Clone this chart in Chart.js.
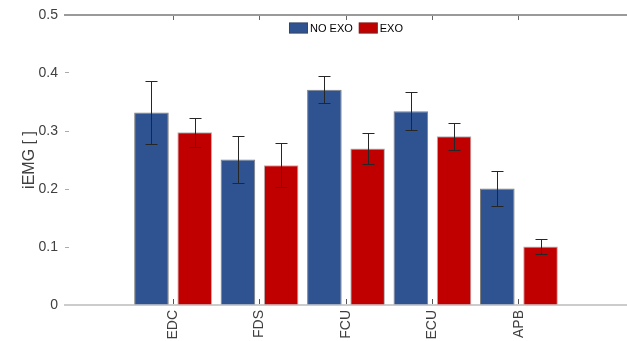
<!DOCTYPE html>
<html>
<head>
<meta charset="utf-8">
<script src="https://cdn.jsdelivr.net/npm/chart.js@4/dist/chart.umd.min.js"></script>
<style>
  html, body { margin: 0; padding: 0; background: #fff; }
</style>
</head>
<body>
<canvas id="iemgChart" width="627" height="341"></canvas>
<script>
// iEMG per muscle, with and without exoskeleton (mean +/- sd)
const muscles = ['EDC', 'FDS', 'FCU', 'ECU', 'APB'];
const noExoMean = [0.332, 0.251, 0.371, 0.334, 0.201];
const noExoErr = [0.054, 0.041, 0.023, 0.033, 0.030];
const exoMean = [0.298, 0.241, 0.270, 0.291, 0.101];
const exoErr = [0.025, 0.038, 0.027, 0.023, 0.013];
const yTicks = [0, 0.1, 0.2, 0.3, 0.4, 0.5];

const FONT = 'Liberation Sans, Arial, Helvetica, sans-serif';
const TEXT = '#404040';

const toPoints = (vals) => vals.map((v, i) => ({ x: i + 1, y: v }));
const categoryTicks = (scale) => { scale.ticks = muscles.map((m, i) => ({ value: i + 1 })); };

// whiskers drawn on top of the bars, positions come from the y scale
const errorBars = {
  id: 'errorBars',
  afterDatasetsDraw(chart) {
    const { ctx } = chart;
    const y = chart.scales.y;
    ctx.save();
    ctx.strokeStyle = '#262626';
    ctx.lineWidth = 1;
    chart.data.datasets.forEach((ds, di) => {
      const meta = chart.getDatasetMeta(di);
      meta.data.forEach((bar, i) => {
        const m = ds.data[i].y;
        const e = ds.errors[i];
        const top = Math.round(y.getPixelForValue(m + e)) + 0.5;
        const bot = Math.round(y.getPixelForValue(m - e)) + 0.5;
        const x = Math.round(bar.x) + 0.5;
        ctx.beginPath();
        ctx.moveTo(x, top); ctx.lineTo(x, bot);
        ctx.moveTo(x - 6, top); ctx.lineTo(x + 6, top);
        ctx.moveTo(x - 6, bot); ctx.lineTo(x + 6, bot);
        ctx.stroke();
      });
    });
    ctx.restore();
  }
};

// matlab-style legend sitting inside the axes, under the top edge
const insideLegend = {
  id: 'insideLegend',
  afterDraw(chart) {
    const { ctx, chartArea } = chart;
    const boxW = 19, boxH = 11, textGap = 2, itemGap = 6;
    ctx.save();
    ctx.font = `11px ${FONT}`;
    const items = chart.data.datasets.map((ds) => ({ label: ds.label, color: ds.backgroundColor, w: ctx.measureText(ds.label).width }));
    const total = items.reduce((s, it) => s + boxW + textGap + it.w, 0) + itemGap * (items.length - 1);
    let x = (chartArea.left + chartArea.right) / 2 - total / 2;
    const top = chartArea.top + 7.5;
    items.forEach((it) => {
      ctx.fillStyle = it.color;
      ctx.fillRect(x, top, boxW, boxH);
      ctx.strokeStyle = 'rgba(60,60,60,0.5)';
      ctx.lineWidth = 1;
      ctx.strokeRect(x + 0.5, top + 0.5, boxW - 1, boxH - 1);
      ctx.fillStyle = '#000';
      ctx.textBaseline = 'middle';
      ctx.textAlign = 'left';
      ctx.fillText(it.label, x + boxW + textGap, top + boxH / 2 + 0.5);
      x += boxW + textGap + it.w + itemGap;
    });
    ctx.restore();
  }
};

new Chart(document.getElementById('iemgChart'), {
  type: 'bar',
  data: {
    datasets: [
      { label: 'NO EXO', data: toPoints(noExoMean), errors: noExoErr, backgroundColor: '#2F5290', borderColor: 'rgba(40,40,40,0.6)', borderWidth: 1 },
      { label: 'EXO', data: toPoints(exoMean), errors: exoErr, backgroundColor: '#C00000', borderColor: 'rgba(60,60,60,0.4)', borderWidth: 1 }
    ]
  },
  options: {
    responsive: false,
    animation: false,
    layout: { padding: 0 },
    categoryPercentage: 1.0,
    barPercentage: 0.8,
    plugins: { legend: { display: false }, tooltip: { enabled: false } },
    scales: {
      x: {
        type: 'linear',
        position: 'bottom',
        offset: false,
        min: -0.25,
        max: 6.25,
        afterBuildTicks: categoryTicks,
        afterFit: (s) => { s.height = 36; s.paddingLeft = 0; s.paddingRight = 0; },
        border: { display: true, color: '#cccccc', width: 2 },
        grid: { offset: false, drawOnChartArea: false, drawTicks: true, tickLength: -6, color: '#555' },
        ticks: {
          autoSkip: false,
          minRotation: 90,
          maxRotation: 90,
          padding: 11,
          color: TEXT,
          font: { family: FONT, size: 14 },
          callback: (v) => muscles[v - 1] || ''
        }
      },
      xTop: {
        type: 'linear',
        position: 'top',
        offset: false,
        min: -0.25,
        max: 6.25,
        afterBuildTicks: categoryTicks,
        afterFit: (s) => { s.height = 15; },
        border: { display: true, color: '#9a9a9a', width: 2 },
        grid: { offset: false, drawOnChartArea: false, drawTicks: true, tickLength: -5, color: '#666' },
        ticks: { display: false }
      },
      y: {
        min: 0,
        max: 0.5,
        afterBuildTicks: (s) => { s.ticks = yTicks.map((v) => ({ value: v })); },
        afterFit: (s) => { s.width = 65; s.paddingTop = 0; s.paddingBottom = 0; },
        border: { display: false },
        grid: { drawOnChartArea: false, drawTicks: true, tickLength: -4, color: '#aaaaaa' },
        ticks: {
          padding: 11,
          color: TEXT,
          font: { family: FONT, size: 14 },
          callback: (v) => String(v)
        },
        title: {
          display: true,
          text: 'iEMG [ ]',
          color: TEXT,
          font: { family: FONT, size: 16 },
          padding: { top: 20, bottom: 0 }
        }
      }
    }
  },
  plugins: [errorBars, insideLegend]
});
</script>
</body>
</html>
